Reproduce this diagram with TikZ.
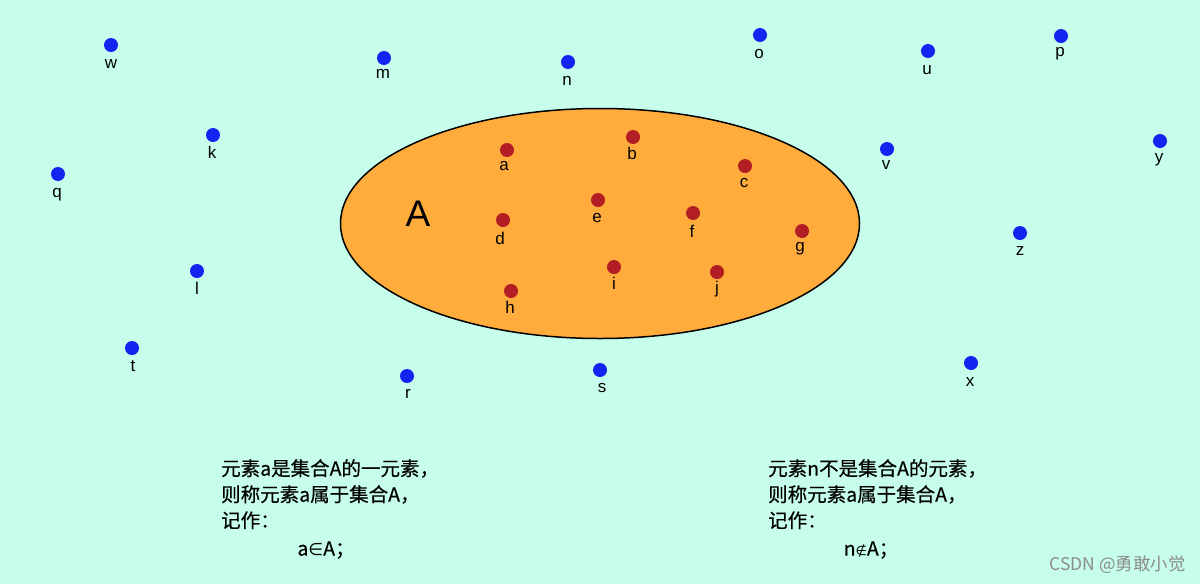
\documentclass[tikz,border=0pt]{standalone}
\usepackage{fontspec}
\usetikzlibrary{shapes.geometric}
\setmainfont{Liberation Sans}
\newfontfamily\cjk[FakeBold=0.4]{Noto Sans CJK SC}
\newfontfamily\cjkwm{Noto Sans CJK SC}
\newfontfamily\dejavu{DejaVu Sans}
\definecolor{bgc}{RGB}{198,253,235}
\definecolor{bluept}{RGB}{20,36,240}
\definecolor{redpt}{RGB}{178,30,36}
\definecolor{setfill}{RGB}{255,172,60}
\tikzset{
  outpt/.style={circle,fill=bluept,inner sep=0pt,minimum size=14pt},
  inpt/.style={circle,fill=redpt,inner sep=0pt,minimum size=14pt},
  lbl/.style={font=\fontsize{17}{17}\selectfont,inner sep=0pt,anchor=base},
  para/.style={font=\cjk\fontsize{19.5}{26}\selectfont,align=left,anchor=north west,inner sep=0pt}
}
\newcommand{\outp}[5]{\node[outpt] (#1) at (#2,#3) {}; \node[lbl] (#1-l) at (#4,#5) {#1};}
\newcommand{\inp}[5]{\node[inpt] (#1) at (#2,#3) {}; \node[lbl] (#1-l) at (#4,#5) {#1};}
\begin{document}
\begin{tikzpicture}[x=1pt,y=-1pt]
\fill[bgc] (0,0) rectangle (1200,584);
\useasboundingbox (0,0) rectangle (1200,584);
\node[ellipse,draw=black,line width=1.5pt,fill=setfill,minimum width=519pt,minimum height=230pt,inner sep=0pt] (A) at (600,223.5) {};
\node[font=\fontsize{37}{37}\selectfont,inner sep=0pt] (Alabel) at (418,214) {A};
% outside points
\outp{w}{111}{45}{111}{68}
\outp{m}{384}{58}{383}{78}
\outp{n}{568}{62}{567}{85}
\outp{o}{760}{35}{759}{58}
\outp{u}{928}{51}{927}{74}
\outp{p}{1061}{36}{1060}{56}
\outp{k}{213}{135}{212}{158}
\outp{v}{887}{149}{886}{169}
\outp{y}{1160}{141}{1159}{162}
\outp{q}{58}{174}{57}{197}
\outp{z}{1020}{233}{1020}{255}
\outp{l}{197}{271}{197}{294}
\outp{t}{132}{348}{133}{371}
\outp{r}{407}{376}{408}{398}
\outp{s}{600}{370}{602}{392}
\outp{x}{971}{363}{970}{386}
% inside points
\inp{a}{507}{150}{504}{170}
\inp{b}{633}{137}{632}{159}
\inp{c}{745}{166}{744}{187}
\inp{d}{503}{220}{500}{244}
\inp{e}{598}{200}{597}{222}
\inp{f}{693}{213}{692}{237}
\inp{g}{802}{231}{800}{251}
\inp{h}{511}{291}{510}{313}
\inp{i}{614}{267}{614}{289}
\inp{j}{717}{272}{717}{293}
% texts
\node[para] (t1) at (221,459) {元素a是集合A的一元素，\\则称元素a属于集合A，\\记作：};
\node[font=\cjk\fontsize{19.5}{26}\selectfont,inner sep=0pt] (t1b) at (326,550) {a{\dejavu\fontsize{17}{17}\selectfont ∈}A；};
\node[para] (t2) at (768,459) {元素n不是集合A的元素，\\则称元素a属于集合A，\\记作：};
\node[font=\cjk\fontsize{19.5}{26}\selectfont,inner sep=0pt] (t2b) at (871,550) {n{\dejavu\fontsize{13}{13}\selectfont ∉}A；};
\node[font=\cjkwm\fontsize{17.5}{18}\selectfont,text=black!45,anchor=east,inner sep=0pt] (wm) at (1186,565) {CSDN @勇敢小觉};
\end{tikzpicture}
\end{document}
